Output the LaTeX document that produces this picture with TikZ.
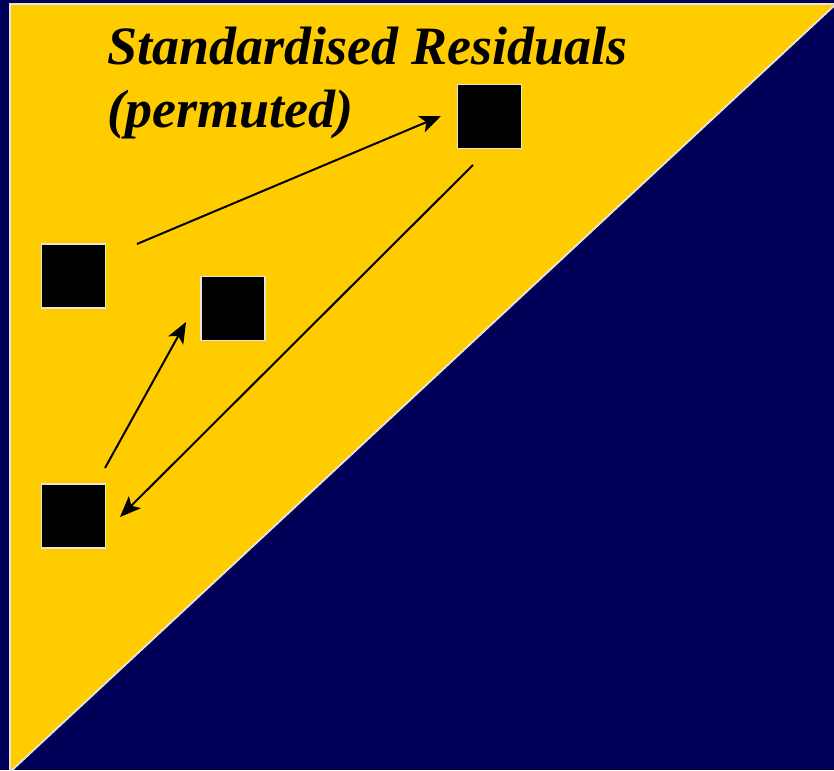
\documentclass[tikz,border=0pt]{standalone}
\usepackage{fontspec}
\setmainfont{Liberation Serif}
\usetikzlibrary{arrows.meta}
\definecolor{navy}{HTML}{000058}
\definecolor{gold}{HTML}{FFCC00}
\definecolor{rim}{HTML}{E8E4D8}
\tikzset{
  cell/.style={draw=rim, line width=1.5pt, fill=black, minimum size=64pt, inner sep=0pt},
  link/.style={line width=2pt, -{Stealth[length=21pt, width=17pt, inset=5pt]}},
}
\begin{document}
\begin{tikzpicture}[x=1pt, y=-1pt]
  % page background
  \fill[navy] (0,0) rectangle (834,770);
  \useasboundingbox (0,0) rectangle (834,770);
  % upper-left triangle
  \filldraw[fill=gold, draw=rim, line width=1.8pt] (10,4) -- (836,4) -- (10,772) -- cycle;
  % title
  \node[anchor=base west, align=left, inner sep=0pt, font=\fontsize{54}{63}\selectfont\bfseries\itshape]
    (title) at (107,128) {Standardised Residuals\\(permuted)};
  % residual cells
  \node[cell] (a) at (73.5,276) {};
  \node[cell] (b) at (489.5,116.5) {};
  \node[cell] (c) at (233,308.5) {};
  \node[cell] (d) at (73.5,516) {};
  % permutation arrows
  \coordinate (a1) at (137,244);
  \coordinate (b1) at (441,116);
  \coordinate (b2) at (473,165);
  \coordinate (d1) at (120,517);
  \coordinate (d2) at (105,468);
  \coordinate (c1) at (186,322);
  \draw[link] (a1) -- (b1);
  \draw[link] (b2) -- (d1);
  \draw[link] (d2) -- (c1);
\end{tikzpicture}
\end{document}
